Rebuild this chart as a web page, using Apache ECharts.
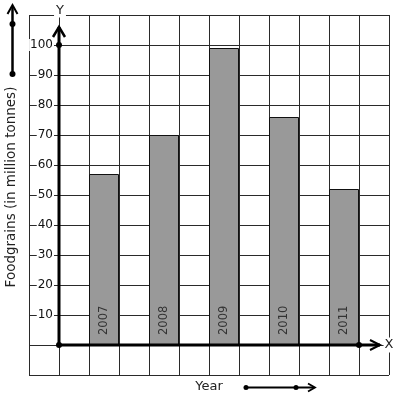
<!DOCTYPE html>
<html>
<head>
<meta charset="utf-8">
<script src="https://cdn.jsdelivr.net/npm/echarts@6/dist/echarts.min.js"></script>
<style>
  html, body { margin: 0; padding: 0; background: #fff; }
  #chart { width: 397px; height: 401px; }
</style>
</head>
<body>
<div id="chart"></div>
<script>
  // data
  var years = ['2007', '2008', '2009', '2010', '2011']
  var foodgrains = [57, 70, 99, 76, 52]
  var yTicks = [10, 20, 30, 40, 50, 60, 70, 80, 90, 100]

  var FONT = 'DejaVu Sans'
  var chart = echarts.init(document.getElementById('chart'))

  // each year sits in every second column of the squared paper
  var barData = []
  for (var i = 0; i < years.length; i++) {
    barData.push({ value: [1.5 + 2 * i, foodgrains[i]], year: years[i] })
  }

  var option = {
    animation: false,
    grid: { left: 29, right: 8, top: 15, bottom: 26, outerBoundsMode: 'none' },
    xAxis: {
      type: 'value',
      min: -1,
      max: 11,
      interval: 1,
      name: 'Year',
      nameLocation: 'middle',
      nameGap: 5,
      nameTextStyle: { fontFamily: FONT, fontSize: 13, color: '#222', verticalAlign: 'top' },
      axisLine: { show: false },
      axisTick: { show: false },
      axisLabel: { show: false },
      splitLine: { show: true, lineStyle: { color: '#2a2a2a', width: 1 } }
    },
    yAxis: {
      type: 'value',
      min: -10,
      max: 110,
      interval: 10,
      offset: -30,
      name: 'Foodgrains (in million tonnes)',
      nameLocation: 'middle',
      nameRotate: 90,
      nameGap: 40,
      nameTextStyle: { fontFamily: FONT, fontSize: 13.5, color: '#222', padding: [0, 0, 0, 16] },
      axisLine: { show: false },
      axisTick: { show: false },
      axisLabel: {
        margin: 5,
        fontFamily: FONT,
        fontSize: 12,
        color: '#111',
        backgroundColor: '#fff',
        padding: [0, 1],
        formatter: function (v) { return yTicks.indexOf(v) >= 0 ? String(v) : '' }
      },
      splitLine: { show: true, lineStyle: { color: '#2a2a2a', width: 1 } }
    },
    series: [{
      type: 'bar',
      barWidth: 30,
      data: barData,
      itemStyle: { color: '#999999', borderColor: '#111', borderWidth: 1 },
      label: {
        show: true,
        position: 'insideBottom',
        distance: 10,
        rotate: 90,
        align: 'left',
        verticalAlign: 'middle',
        fontFamily: FONT,
        fontSize: 11.5,
        color: '#333',
        formatter: function (p) { return p.data.year }
      }
    }]
  }
  chart.setOption(option)

  // hand drawn axes with arrows, placed from data coordinates
  var o = chart.convertToPixel({ gridIndex: 0 }, [0, 0])
  var yTop = chart.convertToPixel({ gridIndex: 0 }, [0, 106])
  var y100 = chart.convertToPixel({ gridIndex: 0 }, [0, 100])
  var xEnd = chart.convertToPixel({ gridIndex: 0 }, [10.7, 0])
  var x10 = chart.convertToPixel({ gridIndex: 0 }, [10, 0])
  var line = { stroke: '#000', lineWidth: 3 }
  var thin = { stroke: '#000', lineWidth: 2 }
  function dot(x, y, r) {
    return { type: 'circle', shape: { cx: x, cy: y, r: r || 3 }, style: { fill: '#000' }, z: 100 }
  }
  chart.setOption({
    graphic: [
      { type: 'line', shape: { x1: o[0], y1: o[1], x2: yTop[0], y2: yTop[1] }, style: line, z: 100 },
      { type: 'polyline', shape: { points: [[yTop[0] - 6, yTop[1] + 10], [yTop[0], yTop[1]], [yTop[0] + 6, yTop[1] + 10]] }, style: { stroke: '#000', lineWidth: 2.5, fill: null }, z: 100 },
      { type: 'line', shape: { x1: o[0], y1: o[1], x2: xEnd[0], y2: xEnd[1] }, style: line, z: 100 },
      { type: 'polyline', shape: { points: [[xEnd[0] - 10, xEnd[1] - 5], [xEnd[0], xEnd[1]], [xEnd[0] - 10, xEnd[1] + 5]] }, style: { stroke: '#000', lineWidth: 2, fill: null }, z: 100 },
      dot(o[0], o[1]),
      dot(y100[0], y100[1]),
      dot(x10[0], x10[1]),
      { type: 'text', x: yTop[0] + 1, y: 11, style: { text: 'Y', fontFamily: FONT, fontSize: 13, fill: '#222', align: 'center', verticalAlign: 'middle', backgroundColor: '#fff', padding: [0, 2] }, z: 101 },
      { type: 'text', x: 389, y: o[1], style: { text: 'X', fontFamily: FONT, fontSize: 13, fill: '#222', align: 'center', verticalAlign: 'middle', backgroundColor: '#fff', padding: [1, 1] }, z: 101 },
      // arrow beside the y title
      { type: 'line', shape: { x1: 12.5, y1: 74, x2: 12.5, y2: 6 }, style: { stroke: '#000', lineWidth: 2.5 } },
      { type: 'polyline', shape: { points: [[7.5, 14], [12.5, 5], [17.5, 14]] }, style: { stroke: '#000', lineWidth: 2, fill: null } },
      dot(12.5, 24, 3), dot(12.5, 74, 3),
      // arrow beside the x title
      { type: 'line', shape: { x1: 246, y1: 387.5, x2: 314, y2: 387.5 }, style: thin },
      { type: 'polyline', shape: { points: [[308, 383.5], [315, 387.5], [308, 391.5]] }, style: { stroke: '#000', lineWidth: 1.8, fill: null } },
      dot(246, 387.5, 2.5), dot(296, 387.5, 2.5)
    ]
  })
</script>
</body>
</html>
